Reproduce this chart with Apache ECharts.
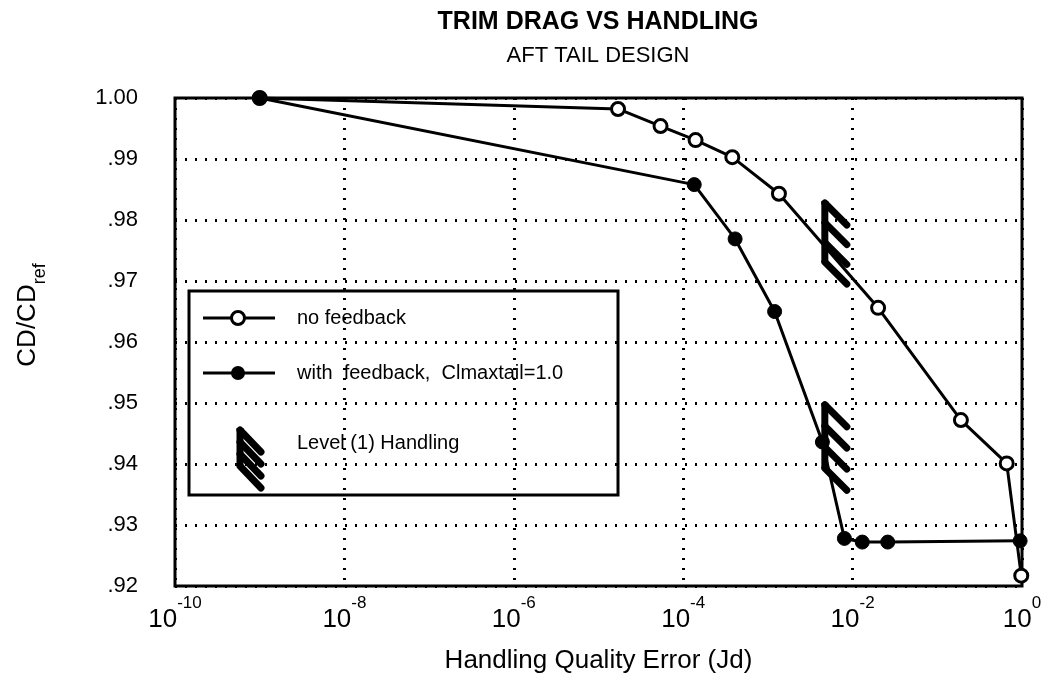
<!DOCTYPE html>
<html>
<head>
<meta charset="utf-8">
<script src="https://cdn.jsdelivr.net/npm/echarts@6/dist/echarts.min.js"></script>
<style>
  html, body { margin: 0; padding: 0; background: #fff; }
  #chart { width: 1052px; height: 688px; }
</style>
</head>
<body>
<div id="chart"></div>
<script>
// data
var noFeedbackJd = [1e-9, 1.7e-5, 5.4e-5, 1.4e-4, 3.8e-4, 1.35e-3, 2.0e-2, 0.19, 0.66, 0.98]
var noFeedbackCd = [1.000, 0.9982, 0.9954, 0.9931, 0.9903, 0.9843, 0.9656, 0.9472, 0.9401, 0.9217]
var feedbackJd = [1e-9, 1.35e-4, 4.1e-4, 1.2e-3, 4.4e-3, 8.0e-3, 1.3e-2, 2.6e-2, 0.95]
var feedbackCd = [1.000, 0.9858, 0.9769, 0.9650, 0.9436, 0.9278, 0.9272, 0.9272, 0.9274]
// level (1) handling marks: Jd, top CD, bottom CD
var levelJd = [4.7e-3, 4.7e-3]
var levelTop = [0.9828, 0.9497]
var levelBottom = [0.9731, 0.9393]
var yTicks = [0.92, 1.00]
var xTicks = [1e-10, 1]

var FONT = '"Liberation Sans", Arial, Helvetica, sans-serif'

function pairs (xs, ys) {
  return xs.map(function (x, i) { return [x, ys[i]] })
}

// hatch glyph: spine with four slanted strokes
function hatchLines (x, yTop, yBot, dx, dy, lw) {
  var out = [{ type: 'line', shape: { x1: x, y1: yTop - 2, x2: x, y2: yBot }, style: { stroke: '#000', lineWidth: lw } }]
  for (var i = 0; i < 4; i++) {
    var sy = yTop + (yBot - yTop) * i / 3
    out.push({
      type: 'line',
      shape: { x1: x, y1: sy, x2: x + dx, y2: sy + dy },
      style: { stroke: '#000', lineWidth: lw, lineCap: 'round' }
    })
  }
  return out
}

var myChart = echarts.init(document.getElementById('chart'))

var option = {
  backgroundColor: '#fff',
  animation: false,
  textStyle: { fontFamily: FONT },
  grid: {
    left: 175,
    right: 30,
    top: 98,
    bottom: 102,
    show: true,
    borderColor: '#000',
    borderWidth: 3,
    backgroundColor: 'transparent'
  },
  xAxis: {
    type: 'log',
    logBase: 10,
    min: xTicks[0],
    max: xTicks[1],
    interval: 2,
    name: 'Handling Quality Error (Jd)',
    nameLocation: 'middle',
    nameGap: 62,
    nameTextStyle: { fontSize: 26, color: '#000', fontFamily: FONT },
    axisLine: { show: false },
    axisTick: { show: false },
    axisLabel: {
      margin: 9,
      color: '#000',
      formatter: function (v) {
        var e = Math.round(Math.log10(v))
        return '{b|10}{s|' + e + '}'
      },
      rich: {
        b: { fontSize: 26, fontFamily: FONT, color: '#000', padding: [12, 0, 0, 0], verticalAlign: 'bottom' },
        s: { fontSize: 17, fontFamily: FONT, color: '#000', verticalAlign: 'top' }
      }
    },
    splitLine: {
      show: true,
      lineStyle: { color: '#000', width: 3, type: [2, 8] }
    }
  },
  yAxis: {
    type: 'value',
    min: yTicks[0],
    max: yTicks[1],
    interval: 0.01,
    axisLine: { show: false },
    axisTick: { show: false },
    axisLabel: {
      margin: 37,
      fontSize: 22,
      color: '#000',
      fontFamily: FONT,
      formatter: function (v) {
        if (v > 0.9995) return '1.00'
        return v.toFixed(2).slice(1)
      }
    },
    splitLine: {
      show: true,
      lineStyle: { color: '#000', width: 3, type: [2, 8] }
    }
  },
  series: [
    {
      name: 'no feedback',
      type: 'line',
      data: pairs(noFeedbackJd, noFeedbackCd),
      clip: false,
      symbol: 'circle',
      symbolSize: 13,
      itemStyle: { color: '#fff', borderColor: '#000', borderWidth: 3 },
      lineStyle: { color: '#000', width: 3 },
      z: 3
    },
    {
      name: 'with feedback, Clmaxtail=1.0',
      type: 'line',
      data: pairs(feedbackJd, feedbackCd),
      clip: false,
      symbol: 'circle',
      symbolSize: 14,
      itemStyle: { color: '#000', borderColor: '#000', borderWidth: 1 },
      lineStyle: { color: '#000', width: 3 },
      z: 4
    },
    {
      name: 'Level (1) Handling',
      type: 'custom',
      data: levelJd.map(function (x, i) { return [x, levelTop[i], levelBottom[i]] }),
      encode: { x: 0, y: [1, 2] },
      clip: false,
      z: 5,
      renderItem: function (params, api) {
        var p0 = api.coord([api.value(0), api.value(1)])
        var p1 = api.coord([api.value(0), api.value(2)])
        return { type: 'group', children: hatchLines(p0[0], p0[1], p1[1], 22, 22, 7) }
      }
    }
  ],
  graphic: [
    {
      type: 'text', x: 598, y: 22, z: 10,
      style: { text: 'TRIM DRAG VS HANDLING', font: 'bold 25px ' + FONT, fill: '#000', align: 'center', verticalAlign: 'middle' }
    },
    {
      type: 'text', x: 598, y: 56, z: 10,
      style: { text: 'AFT TAIL DESIGN', font: '22px ' + FONT, fill: '#000', align: 'center', verticalAlign: 'middle' }
    },
    {
      type: 'text', x: 32, y: 315, rotation: Math.PI / 2, z: 10,
      style: {
        text: '{a|CD/CD}{b|ref}',
        align: 'center',
        verticalAlign: 'middle',
        rich: {
          a: { fontSize: 26, fontFamily: FONT, fill: '#000', color: '#000', verticalAlign: 'top', padding: [0, 0, 9, 0] },
          b: { fontSize: 18, fontFamily: FONT, fill: '#000', color: '#000', verticalAlign: 'bottom' }
        }
      }
    },
    {
      type: 'group',
      z: 20,
      children: [
        { type: 'rect', shape: { x: 189, y: 291, width: 429, height: 204 }, style: { fill: '#fff', stroke: '#000', lineWidth: 3 } },
        { type: 'line', shape: { x1: 203, y1: 318, x2: 275, y2: 318 }, style: { stroke: '#000', lineWidth: 3 } },
        { type: 'circle', shape: { cx: 238, cy: 318, r: 6.5 }, style: { fill: '#fff', stroke: '#000', lineWidth: 3 } },
        { type: 'text', x: 297, y: 318, style: { text: 'no feedback', font: '20px ' + FONT, fill: '#000', verticalAlign: 'middle' } },
        { type: 'line', shape: { x1: 203, y1: 373, x2: 275, y2: 373 }, style: { stroke: '#000', lineWidth: 3 } },
        { type: 'circle', shape: { cx: 238, cy: 373, r: 7 }, style: { fill: '#000' } },
        { type: 'text', x: 297, y: 373, style: { text: 'with  feedback,  Clmaxtail=1.0', font: '20px ' + FONT, fill: '#000', verticalAlign: 'middle' } },
        { type: 'group', children: hatchLines(240, 430, 466, 21, 22, 7) },
        { type: 'text', x: 297, y: 443, style: { text: 'Level (1) Handling', font: '20px ' + FONT, fill: '#000', verticalAlign: 'middle' } }
      ]
    }
  ]
}

myChart.setOption(option)
</script>
</body>
</html>
